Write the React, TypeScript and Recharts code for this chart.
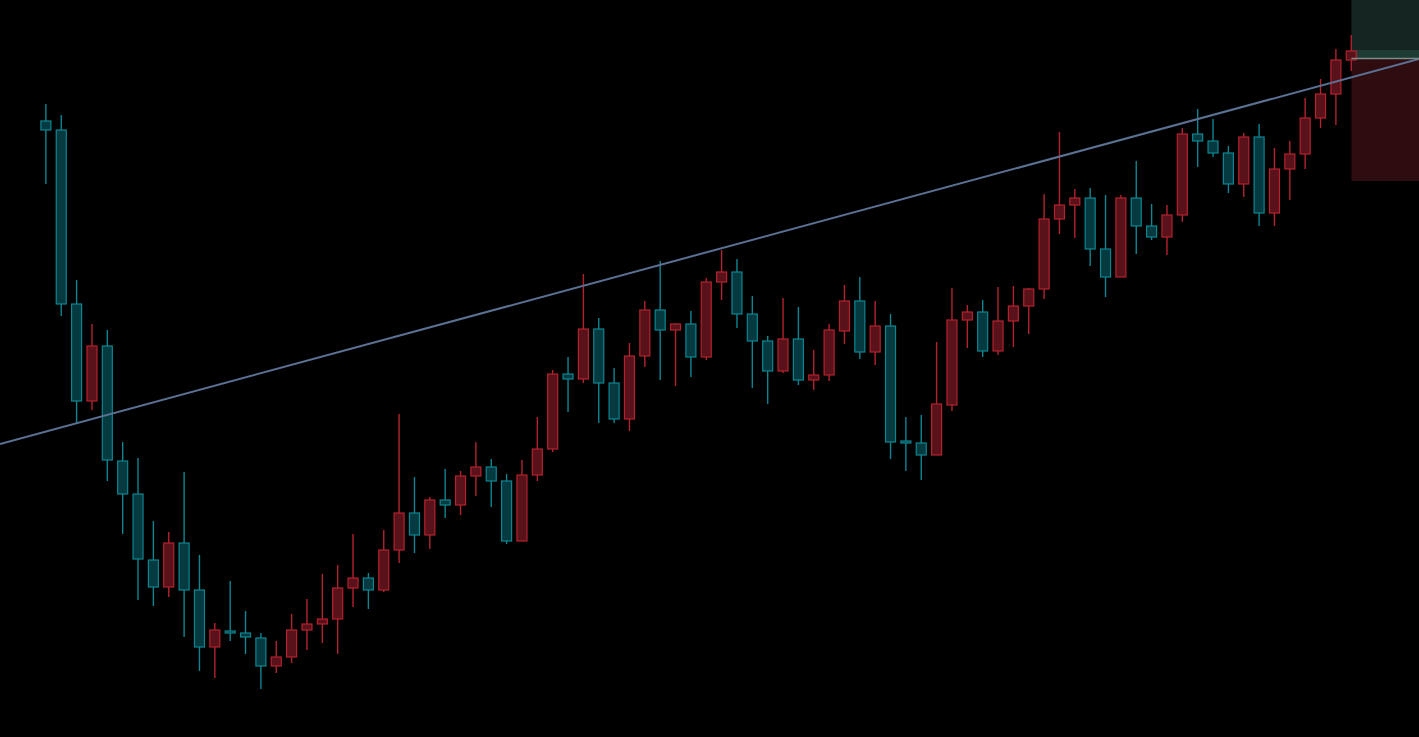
import React from 'react'
import { ComposedChart, Bar, XAxis, YAxis, ReferenceLine, ReferenceArea } from 'recharts'

// candle prices left to right
const opens = [
  161.6, 160.7, 143.3, 133.6, 139.1, 127.6, 124.3, 117.7, 115.0, 119.4,
  114.7, 109.0, 110.6, 110.4, 109.9, 107.1, 108.0, 110.7, 111.3, 111.8,
  114.9, 115.9, 114.7, 118.7, 122.4, 120.2, 123.7, 123.2, 126.1, 127.0,
  125.6, 119.6, 126.2, 128.8, 136.3, 135.8, 140.8, 135.4, 131.8, 138.1,
  142.7, 140.7, 141.3, 138.0, 145.5, 146.5, 142.3, 139.6, 136.6, 139.8,
  135.7, 136.2, 140.6, 143.6, 138.5, 141.1, 129.6, 129.4, 128.2, 133.2,
  141.7, 142.5, 138.6, 141.6, 143.1, 144.8, 151.8, 153.2, 153.9, 148.8,
  146.0, 153.9, 151.1, 150.0, 152.2, 160.3, 159.6, 158.4, 155.3, 160.0,
  152.4, 156.8, 158.3, 161.9, 164.3, 167.7,
]
const highs = [
  163.3, 162.2, 145.7, 141.3, 140.7, 129.5, 127.9, 121.6, 120.5, 126.5,
  118.2, 111.4, 115.6, 112.6, 110.4, 109.6, 112.3, 113.8, 116.3, 117.2,
  120.3, 116.4, 120.7, 132.3, 126.0, 124.0, 126.8, 126.6, 129.5, 127.8,
  126.3, 127.7, 132.0, 136.7, 138.0, 146.3, 141.9, 136.9, 139.4, 143.6,
  147.6, 141.4, 142.6, 145.9, 148.7, 147.8, 144.1, 140.1, 143.9, 143.0,
  138.7, 141.3, 145.2, 146.0, 143.6, 142.3, 132.0, 132.2, 139.5, 144.9,
  143.2, 143.7, 145.0, 145.1, 144.9, 154.3, 160.5, 154.8, 154.9, 154.2,
  154.2, 157.6, 153.3, 153.2, 160.9, 162.8, 161.8, 159.1, 160.4, 161.3,
  158.9, 159.6, 163.9, 165.8, 168.8, 170.2,
]
const lows = [
  155.3, 142.1, 131.3, 132.7, 125.6, 120.3, 113.7, 113.1, 114.0, 110.0,
  106.6, 105.9, 109.6, 108.3, 104.8, 106.4, 107.4, 108.7, 109.4, 108.3,
  113.0, 112.8, 114.5, 117.4, 118.4, 118.8, 121.9, 122.2, 124.1, 123.0,
  119.3, 119.6, 125.6, 128.5, 132.5, 135.4, 131.4, 131.4, 130.6, 137.0,
  135.7, 135.1, 136.0, 137.7, 143.7, 140.9, 134.9, 133.3, 136.4, 135.2,
  134.7, 135.6, 139.3, 137.8, 137.2, 127.8, 126.6, 125.7, 128.2, 132.6,
  138.9, 138.0, 138.2, 139.0, 140.3, 143.8, 150.3, 149.9, 147.1, 144.0,
  146.0, 148.3, 149.7, 148.2, 151.5, 157.0, 158.0, 154.4, 154.0, 151.1,
  151.1, 153.7, 156.8, 160.9, 161.2, 166.6,
]
const closes = [
  160.7, 143.3, 133.6, 139.1, 127.7, 124.3, 117.8, 115.0, 119.4, 114.7,
  109.0, 110.7, 110.4, 110.0, 107.1, 108.0, 110.7, 111.3, 111.8, 114.9,
  115.9, 114.7, 118.7, 122.4, 120.2, 123.7, 123.2, 126.1, 127.0, 125.6,
  119.6, 126.2, 128.8, 136.3, 135.8, 140.8, 135.4, 131.8, 138.1, 142.7,
  140.7, 141.3, 138.0, 145.5, 146.5, 142.3, 139.6, 136.6, 139.8, 135.7,
  136.2, 140.7, 143.6, 138.5, 141.1, 129.5, 129.4, 128.2, 133.3, 141.7,
  142.5, 138.6, 141.6, 143.1, 144.8, 151.8, 153.2, 153.9, 148.8, 146.0,
  153.9, 151.1, 150.0, 152.2, 160.3, 159.6, 158.4, 155.3, 160.0, 152.4,
  156.8, 158.3, 161.9, 164.3, 167.7, 168.6,
]

// trend line end points (bar index, price)
const trendFrom = [-3, 129.3]
const trendTo = [89.4, 167.8]

// position tool on the last bar: target, filled part, entry, stop
const boxStart = 85
const targetTop = 173.7
const targetFilled = 168.7
const entryPrice = 167.85
const stopPrice = 155.6

const X_DOMAIN = [-3, 89.4]
const Y_DOMAIN = [100, 173.7]

const UP = '#b3222f'
const UP_FILL = '#5a121a'
const DOWN = '#0d8592'
const DOWN_FILL = '#053a40'

const candles = opens.map((open, i) => ({
  i,
  open,
  high: highs[i],
  low: lows[i],
  close: closes[i],
  range: [lows[i], highs[i]],
}))

function Candle(props: any) {
  const { x, y, width, height, payload } = props
  const { open, close, high, low } = payload
  const top = Math.min(y, y + height)
  const h = Math.abs(height)
  const toY = (v: number) => top + ((high - v) / (high - low)) * h
  const up = close > open
  const stroke = up ? UP : DOWN
  const cx = x + width / 2
  const bodyTop = toY(Math.max(open, close))
  const bodyBottom = toY(Math.min(open, close))
  return (
    <g>
      <line x1={cx} x2={cx} y1={top} y2={top + h} stroke={stroke} strokeWidth={1.4} />
      <rect
        x={x + 0.5}
        y={bodyTop}
        width={width - 1}
        height={Math.max(bodyBottom - bodyTop, 1.5)}
        fill={up ? UP_FILL : DOWN_FILL}
        stroke={stroke}
        strokeWidth={1.2}
      />
    </g>
  )
}

export default function App() {
  return (
    <div style={{ background: '#000', width: 1419, height: 737 }}>
      <style>{'body{margin:0;background:#000;overflow:hidden}'}</style>
      <ComposedChart width={1419} height={737} data={candles} margin={{ top: 0, right: 0, bottom: 0, left: 0 }}>
        <XAxis dataKey="i" type="number" domain={X_DOMAIN} allowDataOverflow hide />
        <YAxis domain={Y_DOMAIN} allowDataOverflow hide />
        <Bar dataKey="range" barSize={11} shape={<Candle />} isAnimationActive={false} />
        <ReferenceLine
          segment={[
            { x: trendFrom[0], y: trendFrom[1] },
            { x: trendTo[0], y: trendTo[1] },
          ]}
          stroke="#5b7194"
          strokeWidth={2}
          ifOverflow="visible"
        />
        <ReferenceArea x1={boxStart} x2={X_DOMAIN[1]} y1={targetFilled} y2={targetTop} fill="#2a4941" fillOpacity={0.5} stroke="none" ifOverflow="visible" />
        <ReferenceArea x1={boxStart} x2={X_DOMAIN[1]} y1={entryPrice} y2={targetFilled} fill="#3b7567" fillOpacity={0.5} stroke="none" ifOverflow="visible" />
        <ReferenceArea x1={boxStart} x2={X_DOMAIN[1]} y1={stopPrice} y2={entryPrice} fill="#5e1820" fillOpacity={0.5} stroke="none" ifOverflow="visible" />
        <ReferenceLine
          segment={[
            { x: boxStart, y: entryPrice },
            { x: X_DOMAIN[1], y: entryPrice },
          ]}
          stroke="#7d8a86"
          strokeWidth={1.5}
          ifOverflow="visible"
        />
      </ComposedChart>
    </div>
  )
}
